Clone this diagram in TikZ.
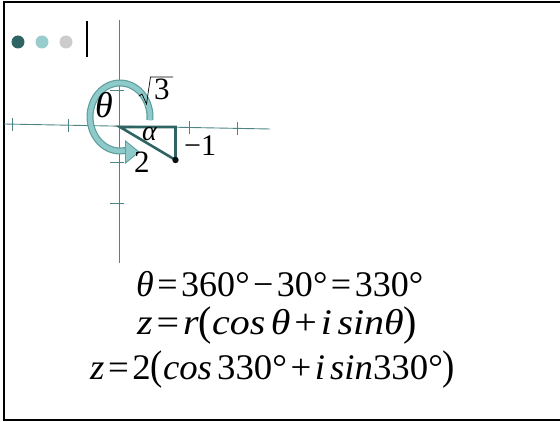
\documentclass[tikz,border=0pt]{standalone}
\usepackage{fontspec}
\setmainfont{Liberation Serif}
\newcommand{\opsp}[1]{\kern3.5pt#1\kern3.5pt}
\newcommand{\bigpar}[1]{\raisebox{-0.5pt}{\scalebox{1}[1.15]{#1}}}
\begin{document}
\begin{tikzpicture}[x=1pt,y=1pt,
  axis/.style={draw=axisc,line width=0.9pt},
  tri/.style={draw=darkteal,line width=2.6pt},
  lbl/.style={inner sep=0pt,anchor=base west},
  eqn/.style={inner sep=0pt,anchor=base west,font=\fontsize{36}{38}\selectfont}]
\definecolor{axisc}{HTML}{4E8484}
\definecolor{darkteal}{HTML}{2F6464}
\definecolor{bandfill}{HTML}{8FCACA}
\definecolor{bandline}{HTML}{5E9E9E}
\definecolor{dotlight}{HTML}{99CCCC}
\definecolor{dotgray}{HTML}{CCCCCC}
\useasboundingbox (0,0) rectangle (560,-422);
\begin{scope}
\clip (0,0) rectangle (560,-422);
\draw[line width=2.2pt] (4,-2) rectangle (565,-420);
\end{scope}
% bullets
\fill[darkteal] (18,-42) circle (6.5);
\fill[dotlight] (42,-42) circle (6.5);
\fill[dotgray] (66,-42) circle (6.5);
\draw[line width=1.6pt] (87,-21) -- (87,-57);
% axes
\coordinate (xl) at (4,-124);
\coordinate (xr) at (270,-129);
\coordinate (yt) at (119.5,-20);
\coordinate (yb) at (119.5,-263);
\draw[axis] (xl) -- (xr);
\draw[axis] (yt) -- (yb);
\foreach \x/\y in {12/-124, 68/-125, 189/-127, 237/-128}
  \draw[axis] (\x,\y+6) -- (\x,\y-7);
\foreach \y in {-90,-162,-203}
  \draw[axis] (110,\y) -- (124,\y);
% circular arrow
\draw[bandline,line width=7pt] (120,-117) ++(-5:30 and 34) arc[start angle=-5,end angle=280,x radius=30,y radius=34];
\draw[bandfill,line width=4.6pt] (120,-117) ++(-5.6:30 and 34) arc[start angle=-5.6,end angle=279.5,x radius=30,y radius=34];
\filldraw[fill=bandfill,draw=bandline,line width=0.9pt] (125.5,-141) -- (139,-152) -- (125.5,-163) -- cycle;
% triangle
\coordinate (O) at (120,-127);
\coordinate (A) at (175.5,-127);
\coordinate (P) at (175.5,-160);
\draw[tri,line join=miter] (O) -- (A) -- (P) -- cycle;
\fill[black!85!darkteal] (P) circle (3.2);
% labels
\node[lbl,font=\fontsize{36}{38}\selectfont\itshape] (th) at (95,-118) {θ};
\draw[line width=0.7pt] (139,-96) -- (142,-94) -- (146.5,-104) -- (150.5,-77) -- (173,-77);
\node[lbl,font=\fontsize{31}{34}\selectfont] (s3) at (154,-100) {3};
\node[lbl,font=\fontsize{28}{30}\selectfont\itshape] (al) at (142,-141) {α};
\node[lbl,font=\fontsize{30}{32}\selectfont] (m1) at (184,-156) {−1};
\node[lbl,font=\fontsize{31}{34}\selectfont] (two) at (134,-173) {2};
% equations
\node[eqn] (e1) at (136,-297) {\resizebox{287pt}{\height}{\textit{θ}\opsp{=}360°\opsp{−}30°\opsp{=}330°}};
\node[eqn] (e2) at (137,-335) {\resizebox{280pt}{\height}{\textit{z}\opsp{=}\textit{r}\bigpar{(}\textit{cos\kern5ptθ}\opsp{+}\textit{i\kern5ptsinθ}\bigpar{)}}};
\node[eqn] (e3) at (90,-379) {\resizebox{365pt}{\height}{\textit{z}\opsp{=}2\bigpar{(}\textit{cos\kern5pt}330°\opsp{+}\textit{i\kern5ptsin}330°\bigpar{)}}};
\end{tikzpicture}
\end{document}
